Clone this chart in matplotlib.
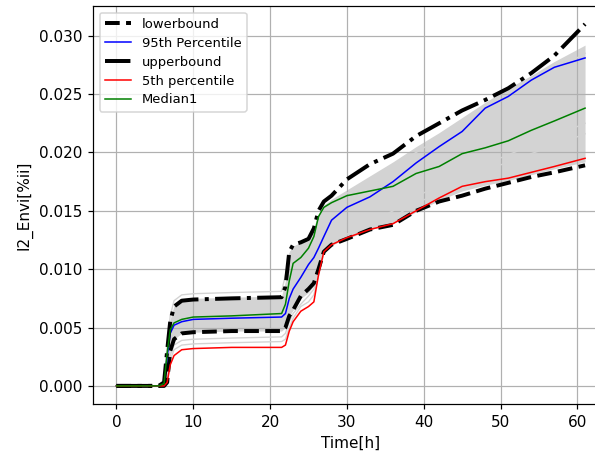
import numpy as np
import matplotlib
matplotlib.use("Agg")
import matplotlib.pyplot as plt

# time axis shared by all series [h]
t = [0, 5.5, 6.2, 6.6, 7.0, 7.5, 8.5, 10, 15, 21.5, 22.0, 22.5, 23, 24, 25,
     25.7, 26.3, 27, 28, 30, 33, 36, 39, 42, 45, 48, 51, 54, 57, 61]

upperbound = [0, 0, 0.0003, 0.0030, 0.0055, 0.0068, 0.0073, 0.0074, 0.0075, 0.0076,
              0.0085, 0.0115, 0.0121, 0.0123, 0.0126, 0.0135, 0.0150, 0.0158, 0.0163,
              0.0177, 0.0190, 0.0199, 0.0214, 0.0225, 0.0236, 0.0245, 0.0255, 0.0268,
              0.0283, 0.0310]
lowerbound = [0, 0, 0, 0.0003, 0.0030, 0.0040, 0.0045, 0.0046, 0.0047, 0.0047,
              0.0050, 0.0060, 0.0065, 0.0077, 0.0083, 0.0088, 0.0100, 0.0115, 0.0121,
              0.0126, 0.0134, 0.0138, 0.0150, 0.0158, 0.0163, 0.0169, 0.0174, 0.0179,
              0.0183, 0.0189]
p95 = [0, 0, 0.0002, 0.0025, 0.0045, 0.0052, 0.0055, 0.0057, 0.0058, 0.0059,
       0.0062, 0.0075, 0.0083, 0.0093, 0.0104, 0.0110, 0.0118, 0.0128, 0.0142,
       0.0153, 0.0162, 0.0175, 0.0191, 0.0205, 0.0218, 0.0238, 0.0248, 0.0262,
       0.0273, 0.0281]
p5 = [0, 0, 0, 0.0003, 0.0018, 0.0026, 0.0031, 0.0032, 0.0033, 0.0033,
      0.0035, 0.0047, 0.0055, 0.0064, 0.0068, 0.0072, 0.0095, 0.0115, 0.0121,
      0.0127, 0.0134, 0.0139, 0.0150, 0.0161, 0.0171, 0.0175, 0.0178, 0.0183,
      0.0188, 0.0195]
median1 = [0, 0, 0.0002, 0.0028, 0.0048, 0.0054, 0.0057, 0.0059, 0.0060, 0.0062,
           0.0070, 0.0090, 0.0105, 0.0110, 0.0118, 0.0128, 0.0145, 0.0153, 0.0157,
           0.0163, 0.0167, 0.0171, 0.0182, 0.0188, 0.0199, 0.0204, 0.0210, 0.0219,
           0.0227, 0.0238]

# bulk of the simulation runs (dense band)
band_lo = [0, 0, 0, 0.0003, 0.0030, 0.0040, 0.0045, 0.0046, 0.0047, 0.0047,
           0.0050, 0.0060, 0.0065, 0.0075, 0.0080, 0.0086, 0.0100, 0.0115, 0.0121,
           0.0126, 0.0134, 0.0139, 0.0149, 0.0159, 0.0167, 0.0172, 0.0176, 0.0181,
           0.0186, 0.0192]
band_hi = [0, 0, 0.0003, 0.0033, 0.0057, 0.0069, 0.0074, 0.0075, 0.0076, 0.0077,
           0.0090, 0.0115, 0.0120, 0.0122, 0.0125, 0.0133, 0.0147, 0.0155, 0.0160,
           0.0168, 0.0180, 0.0192, 0.0205, 0.0217, 0.0230, 0.0243, 0.0255, 0.0266,
           0.0278, 0.0292]
# individual runs outside the band
run_a = [0, 0, 0.0003, 0.0035, 0.0060, 0.0073, 0.0078, 0.0079, 0.0080, 0.0081,
         0.0095, 0.0112, 0.0118, 0.0122, 0.0125, 0.0132, 0.0145, 0.0152, 0.0157,
         0.0165, 0.0176, 0.0188, 0.0200, 0.0212, 0.0224, 0.0236, 0.0248, 0.0259,
         0.0270, 0.0285]
run_b = [0, 0, 0, 0.0003, 0.0026, 0.0035, 0.0039, 0.0040, 0.0041, 0.0042,
         0.0045, 0.0055, 0.0062, 0.0070, 0.0077, 0.0083, 0.0098, 0.0117, 0.0123,
         0.0130, 0.0140, 0.0150, 0.0162, 0.0172, 0.0182, 0.0190, 0.0198, 0.0206,
         0.0214, 0.0225]
run_c = [0, 0, 0, 0.0003, 0.0022, 0.0031, 0.0035, 0.0036, 0.0037, 0.0038,
         0.0040, 0.0050, 0.0058, 0.0068, 0.0072, 0.0078, 0.0094, 0.0114, 0.0120,
         0.0128, 0.0137, 0.0145, 0.0156, 0.0166, 0.0176, 0.0184, 0.0192, 0.0199,
         0.0206, 0.0216]

DPI = 110
fig = plt.figure(figsize=(595 / DPI, 455 / DPI), dpi=DPI)
ax = fig.add_axes([93 / 595, 0.1121, 515.5 / 595, 0.8747])

ax.fill_between(t, band_lo, band_hi, color='lightgray', lw=0)
for run in (run_a, run_b, run_c):
    ax.plot(t, run, color='lightgray', lw=0.9)

ax.plot(t, lowerbound, 'k--', lw=2.6, label='lowerbound')
ax.plot(t, p95, color='blue', lw=1.0, label='95th Percentile')
ax.plot(t, upperbound, 'k-.', lw=2.6, label='upperbound')
ax.plot(t, p5, color='red', lw=1.0, label='5th percentile')
ax.plot(t, median1, color='green', lw=1.0, label='Median1')

ax.set_xlim(-3.05, 64.05)
ax.set_ylim(-0.00155, 0.03255)
ax.grid(True)
ax.set_xlabel('Time[h]')
ax.set_ylabel('I2_Envi[%ii]')
ax.legend(loc='upper left', fontsize=8.6, labelspacing=0.45)

fig.savefig('out.png', dpi=DPI)
